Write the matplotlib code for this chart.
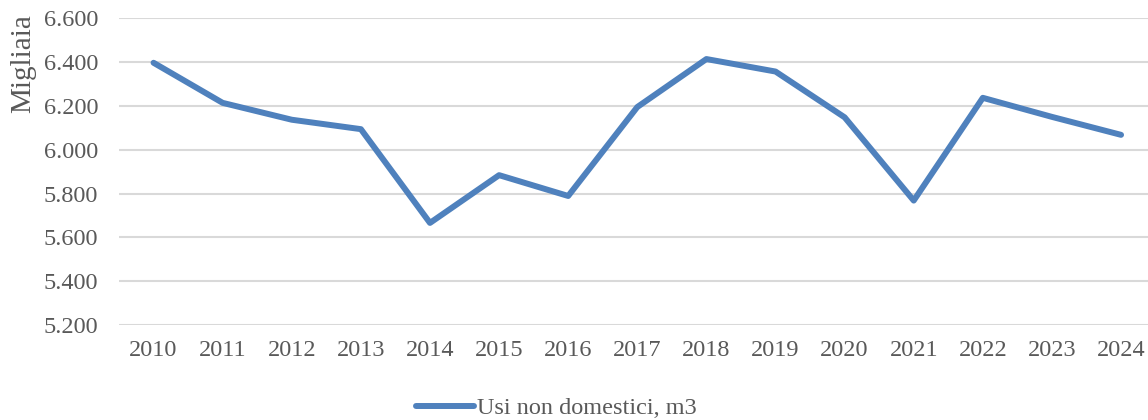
import matplotlib
matplotlib.use("Agg")
import matplotlib.pyplot as plt
from matplotlib.ticker import FuncFormatter

years = ["2010", "2011", "2012", "2013", "2014", "2015", "2016", "2017",
         "2018", "2019", "2020", "2021", "2022", "2023", "2024"]
usi_non_domestici = [6397, 6214, 6137, 6094, 5666, 5884, 5789, 6195,
                     6414, 6357, 6148, 5768, 6237, 6150, 6068]
y_ticks = [5200, 5400, 5600, 5800, 6000, 6200, 6400, 6600]

plt.rcParams["font.family"] = ["Liberation Serif", "DejaVu Serif"]
text_col = "#595959"

W, H = 1148, 420
fig = plt.figure(figsize=(W / 100, H / 100), dpi=100)
ax = fig.add_axes([119 / W, 1 - 325 / H, (1155.6 - 119) / W, (325 - 18.3) / H])

x = range(len(years))
line, = ax.plot(x, usi_non_domestici, color="#4F81BD", lw=4.3,
                solid_joinstyle="round", solid_capstyle="round",
                label="Usi non domestici, m3")

ax.set_xlim(-0.5, len(years) - 0.5)
ax.set_ylim(5200, 6600)
ax.set_yticks(y_ticks)
ax.yaxis.set_major_formatter(FuncFormatter(lambda v, p: f"{int(v):,}".replace(",", ".")))
ax.set_xticks(list(x))
ax.set_xticklabels(years)
ax.grid(axis="y", color="#D9D9D9", lw=1.5)
ax.set_axisbelow(True)
for s in ax.spines.values():
    s.set_visible(False)
ax.tick_params(axis="y", length=0, pad=15, labelsize=17.5, labelcolor=text_col)
ax.tick_params(axis="x", length=0, pad=11, labelsize=17.5, labelcolor=text_col)

fig.text(23 / W, 1 - 64 / H, "Migliaia", rotation=90, ha="center", va="center",
         fontsize=21, color=text_col)

fig.legend(handles=[line], loc="center", bbox_to_anchor=(556 / W, 1 - 408 / H),
           frameon=False, fontsize=17.5, labelcolor=text_col, handlelength=2.4,
           handletextpad=0.1)

fig.savefig("out.png", dpi=100)
